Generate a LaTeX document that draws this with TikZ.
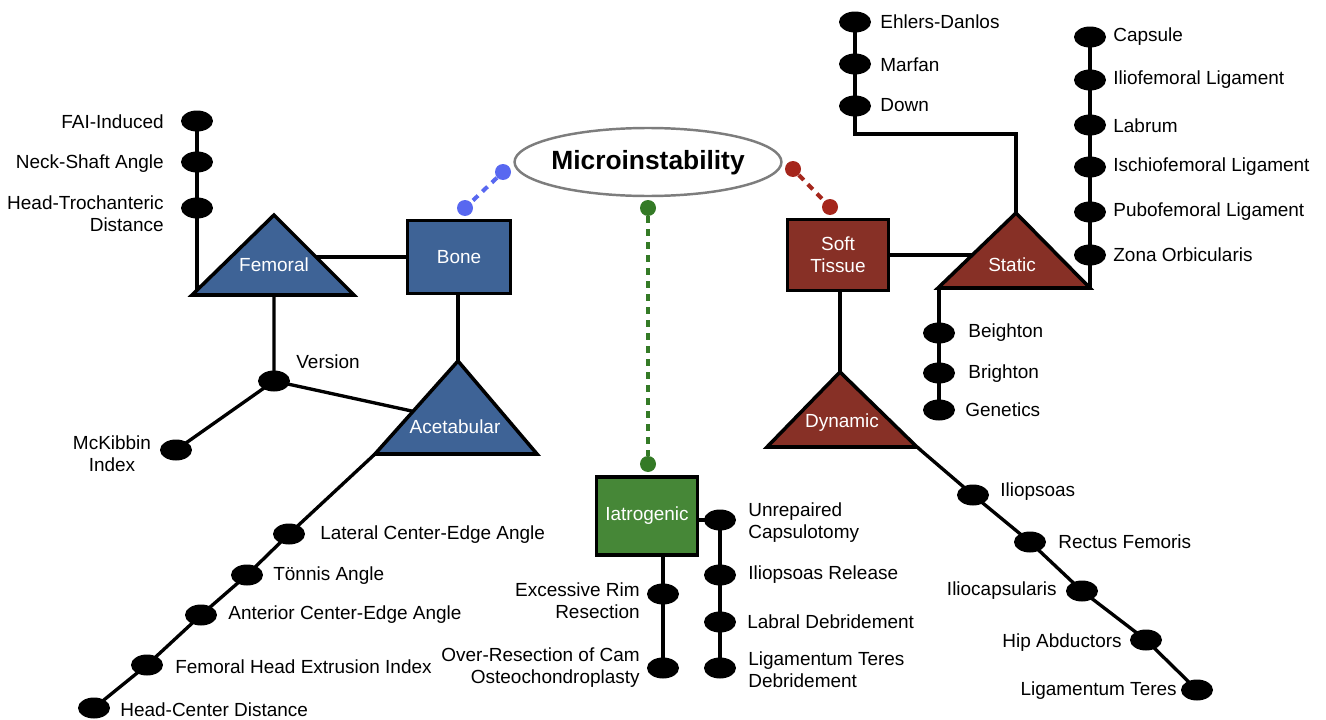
\documentclass[tikz,border=0pt]{standalone}
\usepackage{fontspec}
\setmainfont{Liberation Sans}
\usetikzlibrary{shapes.geometric,backgrounds}

\definecolor{bonefill}{RGB}{62,99,150}
\definecolor{softfill}{RGB}{135,48,38}
\definecolor{iatrofill}{RGB}{70,135,55}
\definecolor{bonedot}{RGB}{88,104,240}
\definecolor{softdot}{RGB}{165,38,28}
\definecolor{iatrodot}{RGB}{52,122,38}
\definecolor{rimgray}{RGB}{125,125,125}

\tikzset{
  lbl/.style={font=\fontsize{10.8}{12.5}\selectfont, inner sep=0pt},
  wlbl/.style={lbl, text=white, align=center},
  dot/.style={ellipse, fill=black, minimum width=0.64cm, minimum height=0.42cm, inner sep=0pt},
  cdot/.style={circle, fill=#1, minimum size=0.32cm, inner sep=0pt},
  box/.style={draw=black, line width=2.2pt, minimum width=2.06cm, minimum height=1.46cm, wlbl},
  tri/.style={draw=black, line width=2pt, line join=miter},
  link/.style={line width=1.9pt},
  cdash/.style={line width=2.3pt, draw=#1, dash pattern=on 4pt off 3.4pt},
}

\begin{document}
\begin{tikzpicture}[x=0.02cm, y=-0.02cm]
\useasboundingbox (0,0) rectangle (1326,720);

% centre and the three groups
\draw[rimgray, line width=1.4pt, fill=white] (648,162) ellipse [x radius=2.67cm, y radius=0.68cm];
\node[inner sep=0pt, font=\fontsize{15}{18}\selectfont\bfseries] (micro) at (648,163) {Microinstability};
\node[box, fill=bonefill] (bone) at (459,257) {Bone};
\node[box, fill=softfill, minimum width=2.02cm, minimum height=1.42cm] (soft) at (838,255) {Soft\\Tissue};
\node[box, fill=iatrofill, minimum width=2.02cm, minimum height=1.56cm] (iatro) at (647,516) {Iatrogenic};

\node[cdot=bonedot] (bd1) at (503,172) {};
\node[cdot=bonedot] (bd2) at (465,208) {};
\node[cdot=softdot] (sd1) at (793,169) {};
\node[cdot=softdot] (sd2) at (830,207) {};
\node[cdot=iatrodot] (id1) at (648,208) {};
\node[cdot=iatrodot] (id2) at (648,464) {};

% triangles
\coordinate (femT) at (274,215); \coordinate (femL) at (192,295); \coordinate (femR) at (354,295);
\coordinate (aceT) at (458,361); \coordinate (aceL) at (375,454); \coordinate (aceR) at (537,454);
\coordinate (aceW) at (430,415);
\coordinate (staT) at (1016,213); \coordinate (staL) at (938,288); \coordinate (staR) at (1090,288);
\coordinate (dynT) at (840,372); \coordinate (dynL) at (767,447); \coordinate (dynR) at (917,447);
\draw[tri, fill=bonefill] (femT) -- (femL) -- (femR) -- cycle;
\draw[tri, fill=bonefill] (aceT) -- (aceL) -- (aceR) -- cycle;
\draw[tri, fill=softfill] (staT) -- (staL) -- (staR) -- cycle;
\draw[tri, fill=softfill] (dynT) -- (dynL) -- (dynR) -- cycle;
\node[wlbl] (femoral) at (274,265) {Femoral};
\node[wlbl] (acetab) at (455,427) {Acetabular};
\node[wlbl] (static) at (1012,265) {Static};
\node[wlbl] (dynamic) at (842,423) {Dynamic};

% femoral
\node[dot] (fai) at (197,121) {};
\node[dot] (nsa) at (197,162) {};
\node[dot] (htd) at (197,208) {};
\node[lbl, anchor=east] (fai-t) at (164,122) {FAI-Induced};
\node[lbl, anchor=east] (nsa-t) at (164,164) {Neck-Shaft Angle};
\node[lbl, anchor=east, align=right] (htd-t) at (164,214) {Head-Trochanteric\\Distance};
\node[dot] (ver) at (274,381) {};
\node[lbl] (ver-t) at (328,362) {Version};
\node[dot] (mck) at (176,450) {};
\node[lbl, align=center] (mck-t) at (112,454) {McKibbin\\Index};

% acetabular
\node[dot] (lce) at (289,534) {};
\node[dot] (ton) at (247,575) {};
\node[dot] (ace) at (201,615) {};
\node[dot] (fhe) at (147,665) {};
\node[dot] (hcd) at (94,708) {};
\node[lbl, anchor=west] (lce-t) at (320,535) {Lateral Center-Edge Angle};
\node[lbl, anchor=west] (ton-t) at (273,576) {Tönnis Angle};
\node[lbl, anchor=west] (ace-t) at (228,615) {Anterior Center-Edge Angle};
\node[lbl, anchor=west] (fhe-t) at (175,667) {Femoral Head Extrusion Index};
\node[lbl, anchor=west] (hcd-t) at (120,710) {Head-Center Distance};

% iatrogenic
\node[dot] (exrim) at (663,594) {};
\node[dot] (overres) at (663,668) {};
\node[dot] (unrep) at (720,520) {};
\node[dot] (ilrel) at (720,575) {};
\node[dot] (labdeb) at (720,622) {};
\node[dot] (ligdeb) at (720,668) {};
\node[lbl, anchor=east, align=right] (exrim-t) at (640,601) {Excessive Rim\\Resection};
\node[lbl, anchor=east, align=right] (overres-t) at (640,668) {Over-Resection of Cam\\Osteochondroplasty};
\node[lbl, anchor=west, align=left] (unrep-t) at (748,523) {Unrepaired\\Capsulotomy};
\node[lbl, anchor=west] (ilrel-t) at (748,575) {Iliopsoas Release};
\node[lbl, anchor=west] (labdeb-t) at (747,622) {Labral Debridement};
\node[lbl, anchor=west, align=left] (ligdeb-t) at (748,670) {Ligamentum Teres\\Debridement};

% static
\node[dot] (ehl) at (855,22) {};
\node[dot] (mar) at (855,64) {};
\node[dot] (down) at (855,106) {};
\node[lbl, anchor=west] (ehl-t) at (880,22) {Ehlers-Danlos};
\node[lbl, anchor=west] (mar-t) at (880,65) {Marfan};
\node[lbl, anchor=west] (down-t) at (880,105) {Down};
\node[dot] (caps) at (1090,37) {};
\node[dot] (ilf) at (1090,80) {};
\node[dot] (lab) at (1090,125) {};
\node[dot] (isf) at (1090,167) {};
\node[dot] (pbf) at (1090,212) {};
\node[dot] (zona) at (1090,255) {};
\node[lbl, anchor=west] (caps-t) at (1113,37) {Capsule};
\node[lbl, anchor=west] (ilf-t) at (1113,80) {Iliofemoral Ligament};
\node[lbl, anchor=west] (lab-t) at (1113,126) {Labrum};
\node[lbl, anchor=west] (isf-t) at (1113,167) {Ischiofemoral Ligament};
\node[lbl, anchor=west] (pbf-t) at (1113,212) {Pubofemoral Ligament};
\node[lbl, anchor=west] (zona-t) at (1113,255) {Zona Orbicularis};
\node[dot] (bei) at (939,333) {};
\node[dot] (bri) at (939,373) {};
\node[dot] (gen) at (939,410) {};
\node[lbl, anchor=west] (bei-t) at (968,333) {Beighton};
\node[lbl, anchor=west] (bri-t) at (968,374) {Brighton};
\node[lbl, anchor=west] (gen-t) at (965,410) {Genetics};

% dynamic
\node[dot] (ilio) at (973,495) {};
\node[dot] (rect) at (1030,542) {};
\node[dot] (ilcap) at (1082,591) {};
\node[dot] (hipab) at (1146,640) {};
\node[dot] (ligt) at (1197,690) {};
\node[lbl, anchor=west] (ilio-t) at (1000,492) {Iliopsoas};
\node[lbl, anchor=west] (rect-t) at (1058,542) {Rectus Femoris};
\node[lbl, anchor=east] (ilcap-t) at (1057,591) {Iliocapsularis};
\node[lbl, anchor=east] (hipab-t) at (1122,643) {Hip Abductors};
\node[lbl, anchor=east] (ligt-t) at (1177,691) {Ligamentum Teres};

% connectors
\begin{scope}[on background layer]
\draw[cdash=bonedot] (bd1) -- (bd2);
\draw[cdash=softdot] (sd1) -- (sd2);
\draw[cdash=iatrodot] (id1) -- (id2);
\draw[link] (bone.west) -- (bone.west -| femT);
\draw[link] (aceT |- bone.south) -- (aceT);
\draw[link] (fai.center) -- (fai.center |- femL);
\draw[link] (femT) -- (ver.center) -- (aceW);
\draw[link] (ver.center) -- (mck.center);
\draw[link] (aceL) -- (lce.center) -- (ton.center) -- (ace.center) -- (fhe.center) -- (hcd.center);
\draw[link] (exrim.center |- iatro.south) -- (overres.center);
\draw[link] (iatro.east |- unrep.center) -- (unrep.center) -- (ligdeb.center);
\draw[link] (soft.east) -- (soft.east -| staT);
\draw[link] (dynT |- soft.south) -- (dynT);
\draw[link] (ehl.center) -- (down.center) -- ++(0,28) -| (staT);
\draw[link] (caps.center) -- (caps.center |- staR);
\draw[link] (gen.center |- staL) -- (gen.center);
\draw[link] (dynR) -- (ilio.center) -- (rect.center) -- (ilcap.center) -- (hipab.center) -- (ligt.center);
\end{scope}
\end{tikzpicture}
\end{document}
